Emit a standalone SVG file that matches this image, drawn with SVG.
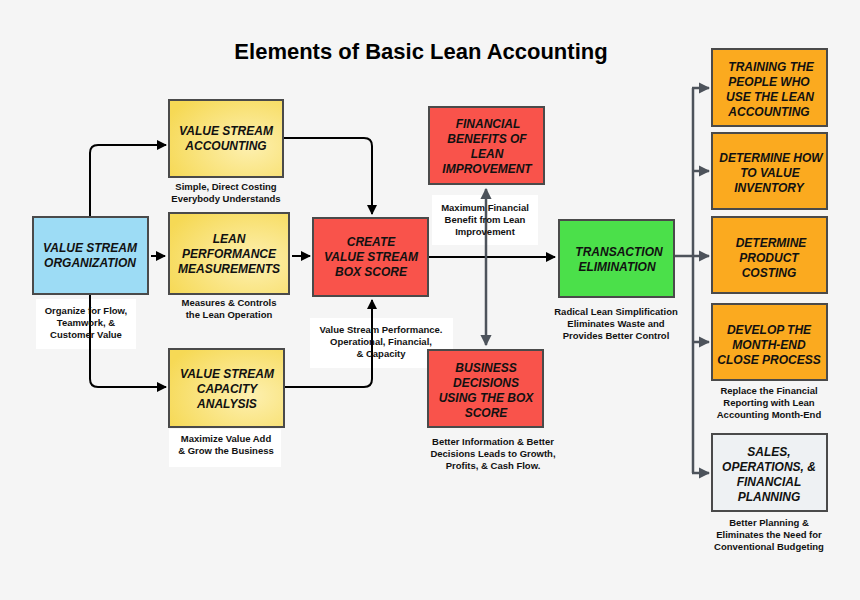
<svg xmlns="http://www.w3.org/2000/svg" width="860" height="600" viewBox="0 0 860 600">
<style>
.b{stroke:#4a4a4a;stroke-width:2}
.t{font-family:"Liberation Sans",Arial,sans-serif;font-weight:bold;font-style:italic;font-size:12px;text-anchor:middle;fill:#111}
.s{font-family:"Liberation Sans",Arial,sans-serif;font-weight:bold;font-size:9.5px;text-anchor:middle;fill:#111}
.k{fill:none;stroke:#000;stroke-width:2}
.g{fill:none;stroke:#4d535b;stroke-width:2.5}
.w{fill:#fff}
</style>
<defs>
<radialGradient id="y" cx="0.7" cy="0.6" r="0.8"><stop offset="0" stop-color="#fdf0b0"/><stop offset="1" stop-color="#f6d955"/></radialGradient>
<marker id="a" viewBox="0 0 10 10" refX="9" refY="5" markerWidth="5" markerHeight="5" orient="auto"><path d="M0,0L10,5L0,10z" fill="#000"/></marker>
<marker id="ag" viewBox="0 0 10 10" refX="9" refY="5" markerWidth="4.5" markerHeight="4.5" orient="auto"><path d="M0,0L10,5L0,10z" fill="#4d535b"/></marker>
</defs>
<rect width="860" height="600" fill="#f5f5f5"/>
<text x="421" y="59" font-family="Liberation Sans,Arial,sans-serif" font-weight="bold" font-size="22" text-anchor="middle" fill="#000">Elements of Basic Lean Accounting</text>

<rect class="w" x="36" y="299" width="100" height="50"/>
<rect class="w" x="169" y="429" width="112" height="38"/>
<rect class="w" x="310" y="318" width="143" height="50"/>
<rect class="w" x="432" y="195" width="106" height="50"/>

<g id="connectors">
<path class="k" d="M90,217V153q0,-8 8,-8H166" marker-end="url(#a)"/>
<path class="k" d="M283,138H364q8,0 8,8V214" marker-end="url(#a)"/>
<path class="k" d="M151,256H165" marker-end="url(#a)"/>
<path class="k" d="M292,256H310" marker-end="url(#a)"/>
<path class="k" d="M90,294V379q0,8 8,8H166" marker-end="url(#a)"/>
<path class="k" d="M284,387H364q8,0 8,-8V300" marker-end="url(#a)"/>
<path class="k" d="M428,257H555" marker-end="url(#a)"/>
<path class="g" d="M486,258V189" marker-end="url(#ag)"/>
<path class="g" d="M486,258V345" marker-end="url(#ag)"/>
<path class="g" d="M674,256H693"/>
<path class="g" d="M693,88V473"/>
<path class="g" d="M692,88H709" marker-end="url(#ag)"/>
<path class="g" d="M692,171H709" marker-end="url(#ag)"/>
<path class="g" d="M692,256H709" marker-end="url(#ag)"/>
<path class="g" d="M692,342H709" marker-end="url(#ag)"/>
<path class="g" d="M692,473H709" marker-end="url(#ag)"/>
</g>

<g id="vso"><rect class="b" x="33" y="217" width="115" height="77" fill="#9ddcf5"/>
<text class="t" x="90" y="252">VALUE STREAM</text><text class="t" x="90" y="267">ORGANIZATION</text>
<text class="s" x="86" y="314">Organize for Flow,</text><text class="s" x="86" y="326">Teamwork, &amp;</text><text class="s" x="86" y="338">Customer Value</text></g>

<g id="vsa"><rect class="b" x="169" y="100" width="114" height="77" fill="url(#y)"/>
<text class="t" x="226" y="135">VALUE STREAM</text><text class="t" x="226" y="150">ACCOUNTING</text>
<text class="s" x="226" y="190">Simple, Direct Costing</text><text class="s" x="226" y="202">Everybody Understands</text></g>

<g id="lpm"><rect class="b" x="169" y="213" width="120" height="81" fill="url(#y)"/>
<text class="t" x="229" y="243">LEAN</text><text class="t" x="229" y="258">PERFORMANCE</text><text class="t" x="229" y="273">MEASUREMENTS</text>
<text class="s" x="229" y="306">Measures &amp; Controls</text><text class="s" x="229" y="318">the Lean Operation</text></g>

<g id="vsca"><rect class="b" x="169" y="349" width="115" height="78" fill="url(#y)"/>
<text class="t" x="227" y="378">VALUE STREAM</text><text class="t" x="227" y="393">CAPACITY</text><text class="t" x="227" y="408">ANALYSIS</text>
<text class="s" x="226" y="442">Maximize Value Add</text><text class="s" x="226" y="454">&amp; Grow the Business</text></g>

<g id="create"><rect class="b" x="313" y="218" width="115" height="78" fill="#f9534b"/>
<text class="t" x="371" y="246">CREATE</text><text class="t" x="371" y="261">VALUE STREAM</text><text class="t" x="371" y="276">BOX SCORE</text>
<text class="s" x="381" y="333">Value Stream Performance.</text><text class="s" x="381" y="345">Operational, Financial,</text><text class="s" x="381" y="357">&amp; Capacity</text></g>

<g id="fin"><rect class="b" x="429" y="107" width="115" height="77" fill="#f9534b"/>
<text class="t" x="488" y="128">FINANCIAL</text><text class="t" x="487" y="143">BENEFITS OF</text><text class="t" x="487" y="158">LEAN</text><text class="t" x="487" y="173">IMPROVEMENT</text>
<text class="s" x="485" y="211">Maximum Financial</text><text class="s" x="485" y="223">Benefit from Lean</text><text class="s" x="485" y="235">Improvement</text></g>

<g id="bus"><rect class="b" x="428" y="350" width="115" height="77" fill="#f9534b"/>
<text class="t" x="486" y="372">BUSINESS</text><text class="t" x="486" y="387">DECISIONS</text><text class="t" x="486" y="402">USING THE BOX</text><text class="t" x="486" y="417">SCORE</text>
<text class="s" x="493" y="445">Better Information &amp; Better</text><text class="s" x="493" y="457">Decisions Leads to Growth,</text><text class="s" x="493" y="469">Profits, &amp; Cash Flow.</text></g>

<g id="trans"><rect class="b" x="559" y="220" width="115" height="77" fill="#4be04a"/>
<text class="t" x="619" y="256">TRANSACTION</text><text class="t" x="617" y="271">ELIMINATION</text>
<text class="s" x="616" y="315">Radical Lean Simplification</text><text class="s" x="616" y="327">Eliminates Waste and</text><text class="s" x="616" y="339">Provides Better Control</text></g>

<g id="train"><rect class="b" x="712" y="49" width="115" height="77" fill="#fbaa1f"/>
<text class="t" x="771" y="71">TRAINING THE</text><text class="t" x="769" y="86">PEOPLE WHO</text><text class="t" x="770" y="101">USE THE LEAN</text><text class="t" x="769" y="116">ACCOUNTING</text></g>

<g id="inv"><rect class="b" x="712" y="133" width="115" height="76" fill="#fbaa1f"/>
<text class="t" x="771" y="162">DETERMINE HOW</text><text class="t" x="770" y="177">TO VALUE</text><text class="t" x="769" y="192">INVENTORY</text></g>

<g id="cost"><rect class="b" x="712" y="217" width="115" height="76" fill="#fbaa1f"/>
<text class="t" x="771" y="247">DETERMINE</text><text class="t" x="769" y="262">PRODUCT</text><text class="t" x="769" y="277">COSTING</text></g>

<g id="month"><rect class="b" x="712" y="304" width="115" height="76" fill="#fbaa1f"/>
<text class="t" x="769" y="334">DEVELOP THE</text><text class="t" x="769" y="349">MONTH-END</text><text class="t" x="769" y="364">CLOSE PROCESS</text>
<text class="s" x="769" y="394">Replace the Financial</text><text class="s" x="769" y="406">Reporting with Lean</text><text class="s" x="769" y="418">Accounting Month-End</text></g>

<g id="sales"><rect class="b" x="712" y="434" width="115" height="77" fill="#eef1f3"/>
<text class="t" x="769" y="456">SALES,</text><text class="t" x="769" y="471">OPERATIONS, &amp;</text><text class="t" x="769" y="486">FINANCIAL</text><text class="t" x="769" y="501">PLANNING</text>
<text class="s" x="769" y="526">Better Planning &amp;</text><text class="s" x="769" y="538">Eliminates the Need for</text><text class="s" x="769" y="550">Conventional Budgeting</text></g>
</svg>
